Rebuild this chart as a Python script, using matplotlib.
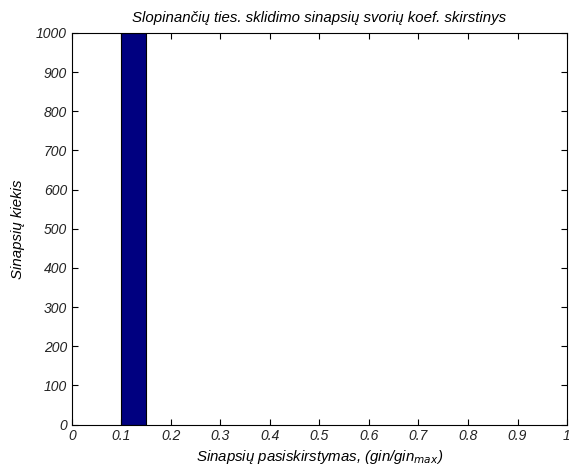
import matplotlib.pyplot as plt
import numpy as np

plt.rcParams['font.family'] = ['Liberation Sans', 'DejaVu Sans']
plt.rcParams['font.style'] = 'italic'
plt.rcParams['mathtext.default'] = 'it'

bin_left = [0.1]
bin_width = [0.05]
counts = [1000]

fig = plt.figure(figsize=(5.69, 4.71), dpi=100)
ax = fig.add_axes([0.1265, 0.0985, 0.870, 0.8315])
ax.bar(bin_left, counts, width=bin_width, align='edge',
       color='#000080', edgecolor='black', linewidth=0.8)
ax.set_xlim(0, 1)
ax.set_ylim(0, 1000)
ax.set_xticks(np.arange(0, 1.01, 0.1))
ax.set_xticklabels(['0', '0.1', '0.2', '0.3', '0.4', '0.5', '0.6', '0.7', '0.8', '0.9', '1'])
ax.set_yticks(np.arange(0, 1001, 100))
ax.tick_params(direction='in', labelsize=10, length=4, top=True, right=True,
               labeltop=False, labelright=False, labelcolor='#222222')
for s in ax.spines.values():
    s.set_linewidth(0.8)
ax.set_title('Slopinančių ties. sklidimo sinapsių svorių koef. skirstinys', fontsize=10.8, pad=8)
ax.set_xlabel('Sinapsių pasiskirstymas, (gin/gin$_{max}$)', fontsize=10.8, labelpad=3)
ax.set_ylabel('Sinapsių kiekis', fontsize=10.8, labelpad=8)
fig.savefig('out.png', dpi=100)
